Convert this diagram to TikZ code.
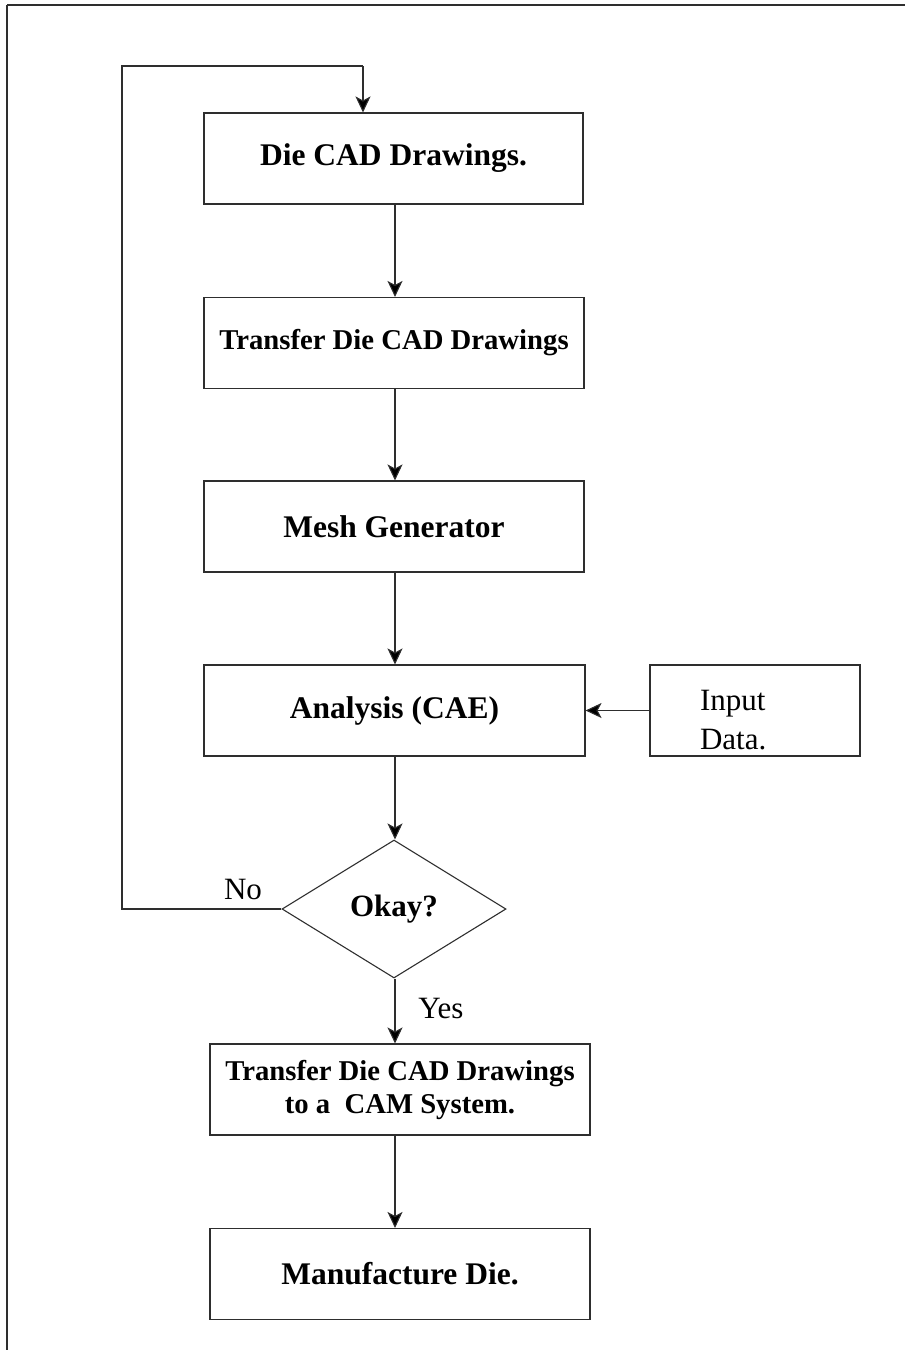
\documentclass[tikz,border=0pt]{standalone}
\usepackage{fontspec}
\setmainfont{Liberation Serif}
\usetikzlibrary{arrows.meta,shapes.geometric,calc}
\definecolor{ink}{HTML}{2E2E2E}
\tikzset{
  procbox/.style={draw=ink, line width=1.1pt, rectangle, minimum width=380pt,
    minimum height=91pt, inner sep=0pt, align=center,
    font=\fontsize{31.5}{36}\selectfont\bfseries},
  longbox/.style={procbox, font=\fontsize{28.7}{33}\selectfont\bfseries},
  decision/.style={draw=ink, line width=1.1pt, diamond, aspect=1.623,
    minimum width=224pt, minimum height=138pt, inner sep=0pt,
    font=\fontsize{31}{36}\selectfont\bfseries},
  flow/.style={draw=ink, line width=1.1pt,
    -{Stealth[length=16pt,width=15pt,inset=4pt,fill=black]}},
  plainline/.style={draw=ink, line width=1.1pt},
  lbl/.style={inner sep=0pt, font=\fontsize{31}{36}\selectfont},
  frameline/.style={draw=ink, line width=1.6pt}
}
\begin{document}
\begin{tikzpicture}[x=1pt,y=-1pt]
  \useasboundingbox (0,0) rectangle (905,1350);

  % page frame (top and left edges)
  \draw[frameline] (7,5) -- (905,5);
  \draw[frameline] (7,5) -- (7,1350);

  % process steps
  \node[procbox, minimum width=379pt] (cad)  at (393.5,158.5) {Die CAD Drawings.};
  \node[longbox] (xfer) at (394,343) {Transfer Die CAD Drawings};
  \node[procbox] (mesh) at (394,526.5) {Mesh Generator};
  \node[procbox, minimum width=381pt] (cae) at (394.5,710.5) {Analysis (CAE)};
  \node[draw=ink, line width=1.1pt, rectangle, minimum width=210pt,
        minimum height=91pt, inner ysep=0pt, inner xsep=50pt, text width=110pt,
        align=left, font=\fontsize{31}{39}\selectfont] (inp) at (755,710.5)
        {\rule{0pt}{40pt}Input\\Data.};
  \node[decision] (ok) at (394,909) {Okay?};
  \node[longbox] (cam) at (400,1089.5) {Transfer Die CAD Drawings\\to a~~CAM System.};
  \node[procbox] (make) at (400,1274) {Manufacture Die.};

  % main flow
  \draw[flow] (cad.south -| 395,0) -- (xfer.north -| 395,0);
  \draw[flow] (xfer.south -| 395,0) -- (mesh.north -| 395,0);
  \draw[flow] (mesh.south -| 395,0) -- (cae.north -| 395,0);
  \draw[flow] (cae.south -| 395,0) -- (ok.north -| 395,0);
  \draw[flow] (ok.south -| 395,0) -- (cam.north -| 395,0);
  \draw[flow] (cam.south -| 395,0) -- (make.north -| 395,0);
  \draw[flow] (inp.west) -- (cae.east);

  % rework loop
  \coordinate (lbot) at (122,909);
  \coordinate (ltop) at (122,66);
  \coordinate (rtop) at (363,66);
  \draw[plainline] (ok.west) -- (lbot) -- (ltop) -- (rtop);
  \draw[flow] (rtop) -- (rtop |- cad.north);

  % decision labels
  \node[lbl] (no)  at (243,889) {No};
  \node[lbl] (yes) at (441,1008) {Yes};
\end{tikzpicture}
\end{document}
